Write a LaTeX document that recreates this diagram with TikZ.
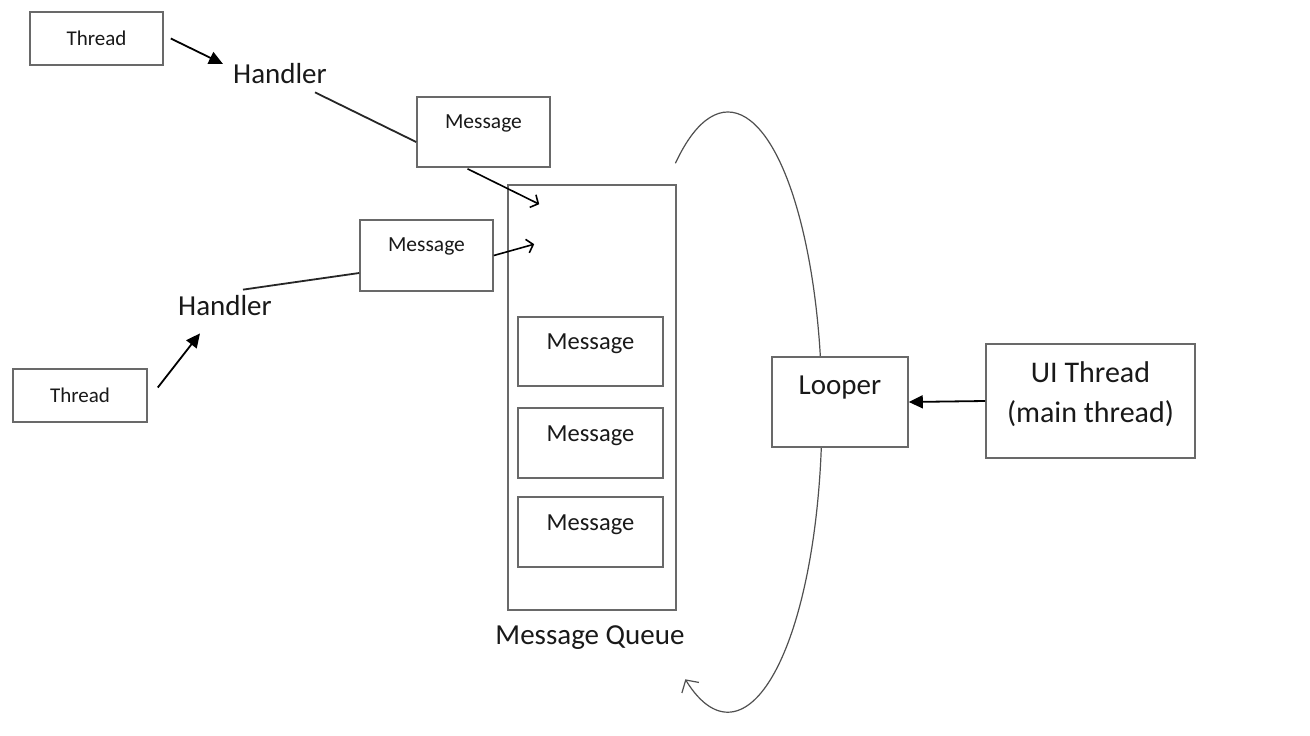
\documentclass[tikz,border=0pt]{standalone}
\usepackage{fontspec}
\setmainfont{Carlito}
\usetikzlibrary{arrows.meta,calc}
\definecolor{boxgray}{RGB}{105,105,105}
\definecolor{txt}{RGB}{25,25,25}
\definecolor{loopgray}{RGB}{80,80,80}
\begin{document}
\begin{tikzpicture}[x=1pt,y=-1pt,
  box/.style={draw=boxgray, line width=1.6pt, fill=white, inner sep=0pt, text=txt},
  smallfont/.style={font=\fontsize{21}{25}\selectfont, text=txt},
  msgfont/.style={font=\fontsize{21.5}{25}\selectfont, text=txt},
  qfont/.style={font=\fontsize{24.5}{28}\selectfont, text=txt},
  bigfont/.style={font=\fontsize{29}{34}\selectfont, text=txt},
  uifont/.style={font=\fontsize{30}{40}\selectfont, text=txt, align=center},
  plain/.style={inner sep=0pt},
  arr/.style={draw=black, line width=1.8pt, -{Triangle[length=14pt,width=13pt]}},
  openarr/.style={draw=black, line width=1.6pt, -{Straight Barb[length=6pt,width=14pt]}},
  conn/.style={draw=black!85, line width=1.8pt},
  loopline/.style={draw=loopgray, line width=1.2pt, -{Straight Barb[length=9pt,width=20pt]}}
]
\useasboundingbox[fill=white] (0,0) rectangle (1310,736);

% loop (behind the looper box)
\coordinate (loopstart) at (675.4,163.3);
\draw[loopline] (loopstart) arc[start angle=-124, end angle=117, x radius=94, y radius=300];

% left side
\node[box, smallfont, minimum width=133pt, minimum height=53pt] (thread1) at (96.5,38.5) {Thread};
\node[plain, bigfont] (handler1) at (280,74) {Handler};
\node[box, minimum width=133pt, minimum height=70pt,
      label={[name=msg1text, msgfont, yshift=9pt]center:Message}] (msg1) at (483.5,132) {};
\node[box, minimum width=133pt, minimum height=71pt,
      label={[name=msg2text, msgfont, yshift=9.5pt]center:Message}] (msg2) at (426.5,255.5) {};
\node[plain, bigfont] (handler2) at (225,306) {Handler};
\node[box, smallfont, minimum width=134pt, minimum height=53pt] (thread2) at (80,395.5) {Thread};

% queue
\node[box, minimum width=168pt, minimum height=425pt] (queue) at (592,397.5) {};
\node[box, minimum width=145pt, minimum height=69pt,
      label={[name=q1text, qfont, yshift=7.5pt]center:Message}] (q1) at (590.5,351.5) {};
\node[box, minimum width=145pt, minimum height=70pt,
      label={[name=q2text, qfont, yshift=7pt]center:Message}] (q2) at (590.5,443) {};
\node[box, minimum width=145pt, minimum height=70pt,
      label={[name=q3text, qfont, yshift=7pt]center:Message}] (q3) at (590.5,532) {};
\node[plain, bigfont] (mqlabel) at (590,638) {Message Queue};

% right side
\node[box, minimum width=136pt, minimum height=90pt,
      label={[name=loopertext, bigfont, yshift=14pt]center:Looper}] (looper) at (840,402) {};
\node[box, minimum width=209pt, minimum height=114pt,
      label={[name=uitext, uifont, yshift=7pt]center:{UI Thread\\(main thread)}}] (ui) at (1090.5,401) {};

% connectors
\draw[arr] ($(thread1.east)+(7,0)$) -- ($(handler1.west)+(-10,-10)$);
\draw[conn] ($(handler1.south east)+(-12,8)$) -- ($(msg1.west)+(0,10)$);
\draw[openarr] ($(msg1.south)+(-16,1)$) -- ($(queue.north west)+(32,20)$);
\draw[conn] ($(handler2.north)+(18,-6)$) -- ($(msg2.west)+(0,17.5)$);
\draw[openarr] (msg2.east) -- ($(queue.north west)+(27,60)$);
\draw[arr] ($(thread2.east)+(10,-8)$) -- ($(handler2.south)+(-25,17)$);
\draw[arr] (ui.west) -- (looper.east);
\end{tikzpicture}
\end{document}
